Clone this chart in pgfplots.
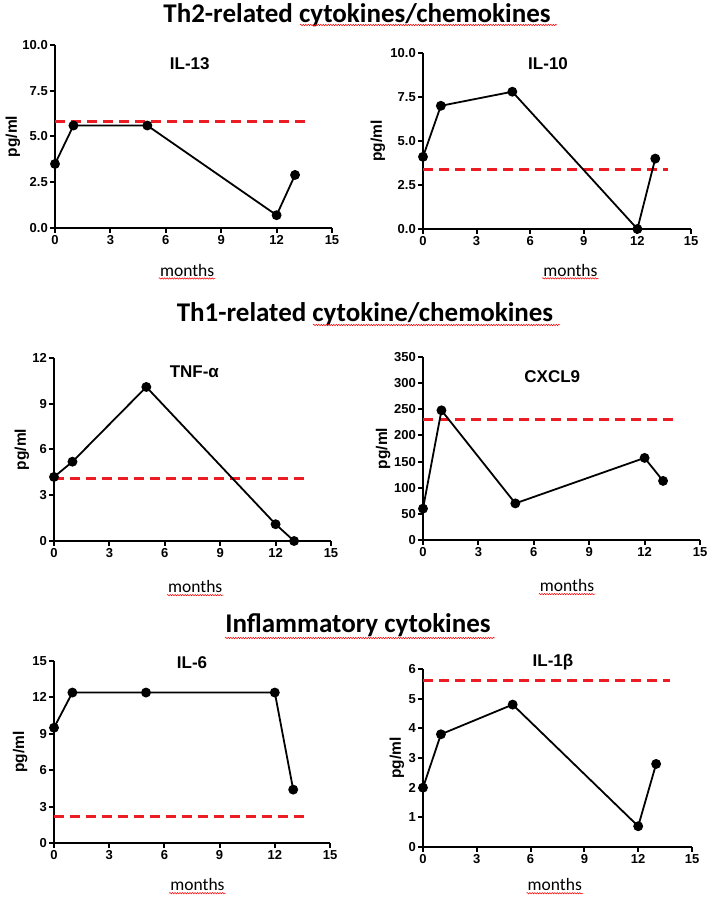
\documentclass[border=0pt]{standalone}
\usepackage{pgfplots}
\pgfplotsset{compat=1.18}
\usepackage{fontspec}
\setmainfont{Liberation Sans}
\newfontfamily\calibri{Carlito}
\usetikzlibrary{decorations.pathmorphing}
\definecolor{refred}{RGB}{237,28,36}

\pgfplotsset{
  gp/.style={
    scale only axis, axis lines=left, axis line style={-, line width=2pt},
    xmin=0, xmax=15, xtick={0,3,...,15}, ymin=0,
    tick align=outside, major tick length=5pt, tick style={line width=2pt, black},
    ticklabel style={font=\bfseries\fontsize{13}{15}\selectfont, inner sep=2pt},
    /pgf/number format/assume math mode=true,
    ylabel={pg/ml}, ylabel style={font=\bfseries\fontsize{15.5}{17}\selectfont, anchor=center},
    clip=false, anchor=south west,
  },
}
\tikzset{
  dat/.style={black, line width=1.8pt, mark=*, mark size=4pt},
  cut/.style={color=refred, line width=3pt, dash pattern=on 10pt off 6pt},
  ptitle/.style={font=\bfseries\fontsize{17}{19}\selectfont},
  wavy/.style={red, line width=0.5pt, decorate,
    decoration={snake, amplitude=0.7pt, segment length=2.5pt}},
}
% "months" label with the spell-check underline
\newcommand{\months}[2]{%
  \node[font=\calibri\fontsize{17.5}{19}\selectfont, inner sep=1pt] (m) at (axis description cs:#1,#2) {months};
  \draw[wavy] ([yshift=-1pt]m.south west) -- ([yshift=-1pt]m.south east);}

\begin{document}
\begin{tikzpicture}
\useasboundingbox (0,0) rectangle (709pt,898pt);

% section titles
\node[font=\calibri\bfseries\fontsize{27}{30}\selectfont, anchor=base] at (357pt,875pt) {Th2-related cytokines/chemokines};
\draw[wavy] (300pt,873pt) -- (557pt,873pt);
\node[font=\calibri\bfseries\fontsize{27}{30}\selectfont, anchor=base] at (365pt,576pt) {Th1-related cytokine/chemokines};
\draw[wavy] (313pt,573pt) -- (560pt,573pt);
\node[font=\calibri\bfseries\fontsize{27}{30}\selectfont, anchor=base] at (358pt,265pt) {Inflammatory cytokines};
\draw[wavy] (225pt,260pt) -- (495pt,260pt);

% IL-13
\begin{axis}[gp, at={(55pt,670pt)}, width=277pt, height=183pt, ymax=10, ytick={0,2.5,...,10},
  yticklabel style={/pgf/number format/.cd, fixed, fixed zerofill, precision=1},
  ylabel style={at={(axis description cs:-0.152,0.5)}}]
\addplot[cut] coordinates {(0,5.8) (13.8,5.8)};
\addplot[dat] coordinates {(0,3.5) (1,5.6) (5,5.6) (12,0.7) (13,2.9)};
\node[ptitle] at (axis cs:7.3,9.0) {IL-13};
\months{0.477}{-0.23}
\end{axis}

% IL-10
\begin{axis}[gp, at={(423pt,669pt)}, width=268pt, height=176pt, ymax=10, ytick={0,2.5,...,10},
  yticklabel style={/pgf/number format/.cd, fixed, fixed zerofill, precision=1},
  ylabel style={at={(axis description cs:-0.168,0.5)}}]
\addplot[cut] coordinates {(0,3.4) (13.7,3.4)};
\addplot[dat] coordinates {(0,4.1) (1,7.0) (5,7.8) (12,0) (13,4.0)};
\node[ptitle] at (axis cs:7.0,9.4) {IL-10};
\months{0.55}{-0.233}
\end{axis}

% TNF-alpha
\begin{axis}[gp, at={(54pt,357pt)}, width=277pt, height=183pt, ymax=12, ytick={0,3,...,12},
  ylabel style={at={(axis description cs:-0.116,0.5)}}]
\addplot[cut] coordinates {(0,4.1) (13.8,4.1)};
\addplot[dat] coordinates {(0,4.2) (1,5.2) (5,10.1) (12,1.1) (13,0)};
\node[ptitle] at (axis cs:7.6,11.1) {TNF-α};
\months{0.51}{-0.25}
\end{axis}

% CXCL9
\begin{axis}[gp, at={(423pt,358pt)}, width=277pt, height=183pt, ymax=350, ytick={0,50,...,350},
  ylabel style={at={(axis description cs:-0.144,0.5)}}]
\addplot[cut] coordinates {(0,230) (13.75,230)};
\addplot[dat] coordinates {(0,60) (1,248) (5,70) (12,157) (13,113)};
\node[ptitle] at (axis cs:7.0,312) {CXCL9};
\months{0.52}{-0.25}
\end{axis}

% IL-6
\begin{axis}[gp, at={(54pt,55pt)}, width=276pt, height=182pt, ymax=15, ytick={0,3,...,15},
  ylabel style={at={(axis description cs:-0.123,0.5)}}]
\addplot[cut] coordinates {(0,2.2) (13.8,2.2)};
\addplot[dat] coordinates {(0,9.5) (1,12.4) (5,12.4) (12,12.4) (13,4.4)};
\node[ptitle] at (axis cs:7.5,14.9) {IL-6};
\months{0.52}{-0.23}
\end{axis}

% IL-1beta
\begin{axis}[gp, at={(423pt,51pt)}, width=269pt, height=178pt, ymax=6, ytick={0,1,...,6},
  ylabel style={at={(axis description cs:-0.097,0.5)}}]
\addplot[cut] coordinates {(0,5.6) (13.8,5.6)};
\addplot[dat] coordinates {(0,2) (1,3.8) (5,4.8) (12,0.7) (13,2.8)};
\node[ptitle] at (axis cs:7.25,6.24) {IL-1β};
\months{0.49}{-0.213}
\end{axis}
\end{tikzpicture}
\end{document}
